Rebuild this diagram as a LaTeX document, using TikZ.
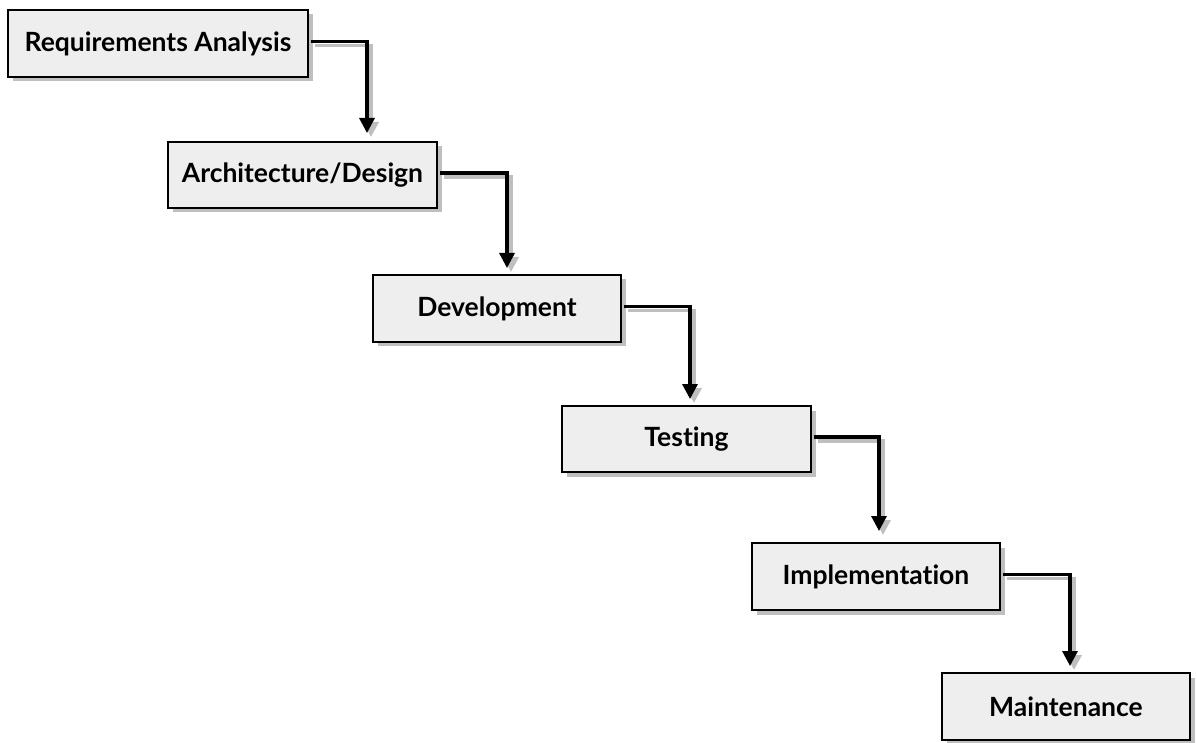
\documentclass[tikz,border=0pt]{standalone}
\usepackage{fontspec}
\setmainfont{Lato}[Ligatures=NoCommon]
\usetikzlibrary{arrows.meta,shadows}
\begin{document}
\begin{tikzpicture}[x=1pt,y=-1pt,
  phase/.style={draw=black, line width=2.8pt, fill=gray!13,
    drop shadow={shadow xshift=4.5pt, shadow yshift=-4.5pt, fill=gray!50, opacity=1},
    font=\fontsize{26.5}{30}\selectfont\bfseries, inner sep=0pt},
  flow/.style={line width=3.2pt, draw=black, -{Triangle[length=15pt,width=15pt]}},
  flowshade/.style={line width=3.6pt, draw=gray!50, -{Triangle[length=15pt,width=15pt]},
    transform canvas={shift={(4pt,-4pt)}}}]
\useasboundingbox (0,0) rectangle (1197,743);
\fill[white] (0,0) rectangle (1197,743);

\node[phase, minimum width=300pt, minimum height=67pt] (b1) at (158,43.5) {Requirements Analysis};
\node[phase, minimum width=269pt, minimum height=66pt] (b2) at (302.5,175) {Architecture/Design};
\node[phase, minimum width=248pt, minimum height=67pt] (b3) at (497,308.5) {Development};
\node[phase, minimum width=249pt, minimum height=66pt] (b4) at (686.5,439) {Testing};
\node[phase, minimum width=248pt, minimum height=67pt] (b5) at (876,576.5) {Implementation};
\node[phase, minimum width=248pt, minimum height=67pt] (b6) at (1066,706.5) {Maintenance};

% arrow ends just above each following box
\coordinate (e1) at (367,133);
\coordinate (e2) at (507,268);
\coordinate (e3) at (690,399);
\coordinate (e4) at (879,531);
\coordinate (e5) at (1070,666);

\foreach \a/\e in {b1/e1,b2/e2,b3/e3,b4/e4,b5/e5}{
  \draw[flowshade] ([xshift=1.4pt,yshift=2pt]\a.east) -| (\e);
  \draw[flow] ([xshift=1.4pt,yshift=2pt]\a.east) -| (\e);
}
\end{tikzpicture}
\end{document}
